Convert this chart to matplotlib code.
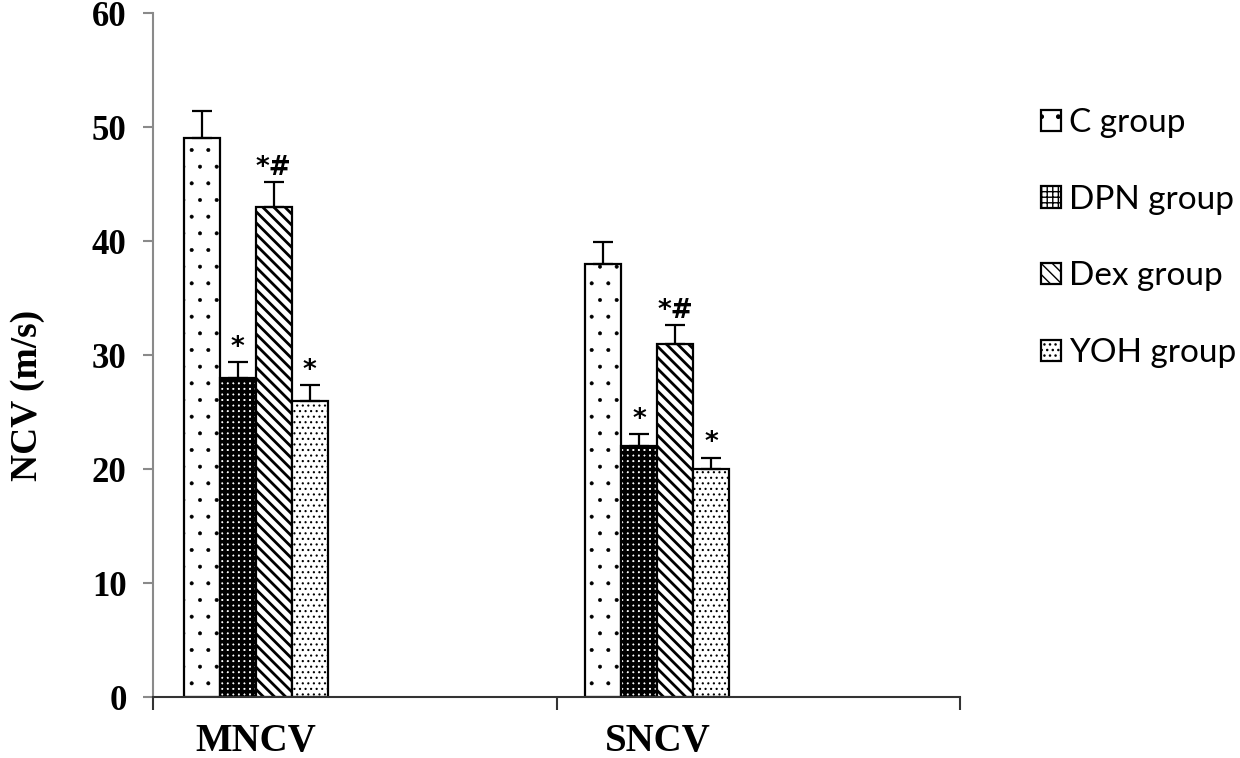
import matplotlib
matplotlib.use('Agg')
import matplotlib.pyplot as plt
import numpy as np

categories = ['MNCV', 'SNCV']
groups = ['C group', 'DPN group', 'Dex group', 'YOH group']
c_vals = [49, 38]
dpn_vals = [28, 22]
dex_vals = [43, 31]
yoh_vals = [26, 20]
c_err = [2.4, 1.9]
dpn_err = [1.4, 1.1]
dex_err = [2.2, 1.6]
yoh_err = [1.4, 1.0]
c_marks = ['', '']
dpn_marks = ['*', '*']
dex_marks = ['*#', '*#']
yoh_marks = ['*', '*']
y_ticks = [0, 10, 20, 30, 40, 50, 60]

values = [c_vals, dpn_vals, dex_vals, yoh_vals]
errors = [c_err, dpn_err, dex_err, yoh_err]
marks = [c_marks, dpn_marks, dex_marks, yoh_marks]
hatches = ['.', '+++', '\\\\\\', '...']
hatch_lw = [0.4, 2.6, 2.0, 0.8]

fig = plt.figure(figsize=(12.4, 7.58), dpi=100)
ax = fig.add_axes([153/1240, 1-697/758, (960-153)/1240, (697-13)/758])

centers = np.array([0.255, 1.25])
width = 0.0892
offsets = (np.arange(4) - 1.5) * width

handles = []
for i in range(4):
    with plt.rc_context({'hatch.linewidth': hatch_lw[i], 'hatch.color': 'black'}):
        bars = ax.bar(centers + offsets[i], values[i], width=width, facecolor='white',
                      edgecolor='black', linewidth=1.6, hatch=hatches[i], zorder=2,
                      label=groups[i])
        for b in bars:
            try:
                b.set_hatch_linewidth(hatch_lw[i])
            except AttributeError:
                pass
    handles.append(bars)
    ax.errorbar(centers + offsets[i], values[i],
                yerr=[np.zeros(len(errors[i])), errors[i]],
                fmt='none', ecolor='black', elinewidth=1.6, capsize=7,
                capthick=1.6, zorder=3)
    for j in range(len(categories)):
        if marks[i][j]:
            ax.text(centers[j] + offsets[i], values[i][j] + errors[i][j] + 0.1,
                    marks[i][j], ha='center', va='bottom', fontsize=19,
                    fontweight='bold', family='DejaVu Sans', color='black')

ax.set_xlim(0, 2)
ax.set_ylim(0, 60)
ax.set_yticks(y_ticks)
ax.set_yticklabels([str(t) for t in y_ticks], fontsize=25, fontweight='bold',
                   family='Liberation Serif')
ax.tick_params(axis='y', direction='out', length=7, width=1.5, color='#8a8a8a', pad=12)

ax.set_xticks(centers)
ax.set_xticklabels(categories, fontsize=28, fontweight='bold', family='Liberation Serif')
ax.tick_params(axis='x', which='major', length=0, pad=19)
ax.set_xticks([0, 1, 2], minor=True)
ax.tick_params(axis='x', which='minor', direction='out', length=9, width=1.5, color='#333333')

for s in ['top', 'right']:
    ax.spines[s].set_visible(False)
ax.spines['left'].set_color('#8a8a8a')
ax.spines['left'].set_linewidth(1.5)
ax.spines['bottom'].set_color('#333333')
ax.spines['bottom'].set_linewidth(1.5)

fig.text(0.022, 0.478, 'NCV (m/s)', rotation=90, ha='center', va='center',
         fontsize=27, fontweight='bold', family='Liberation Serif')

leg = fig.legend(handles=handles, labels=groups, loc='center left',
                 bbox_to_anchor=(0.826, 0.686), frameon=False,
                 prop={'family': 'Lato', 'size': 24}, handlelength=0.6,
                 handleheight=0.6, handletextpad=0.25, labelspacing=1.4,
                 borderpad=0)

fig.savefig('out.png', dpi=100)
